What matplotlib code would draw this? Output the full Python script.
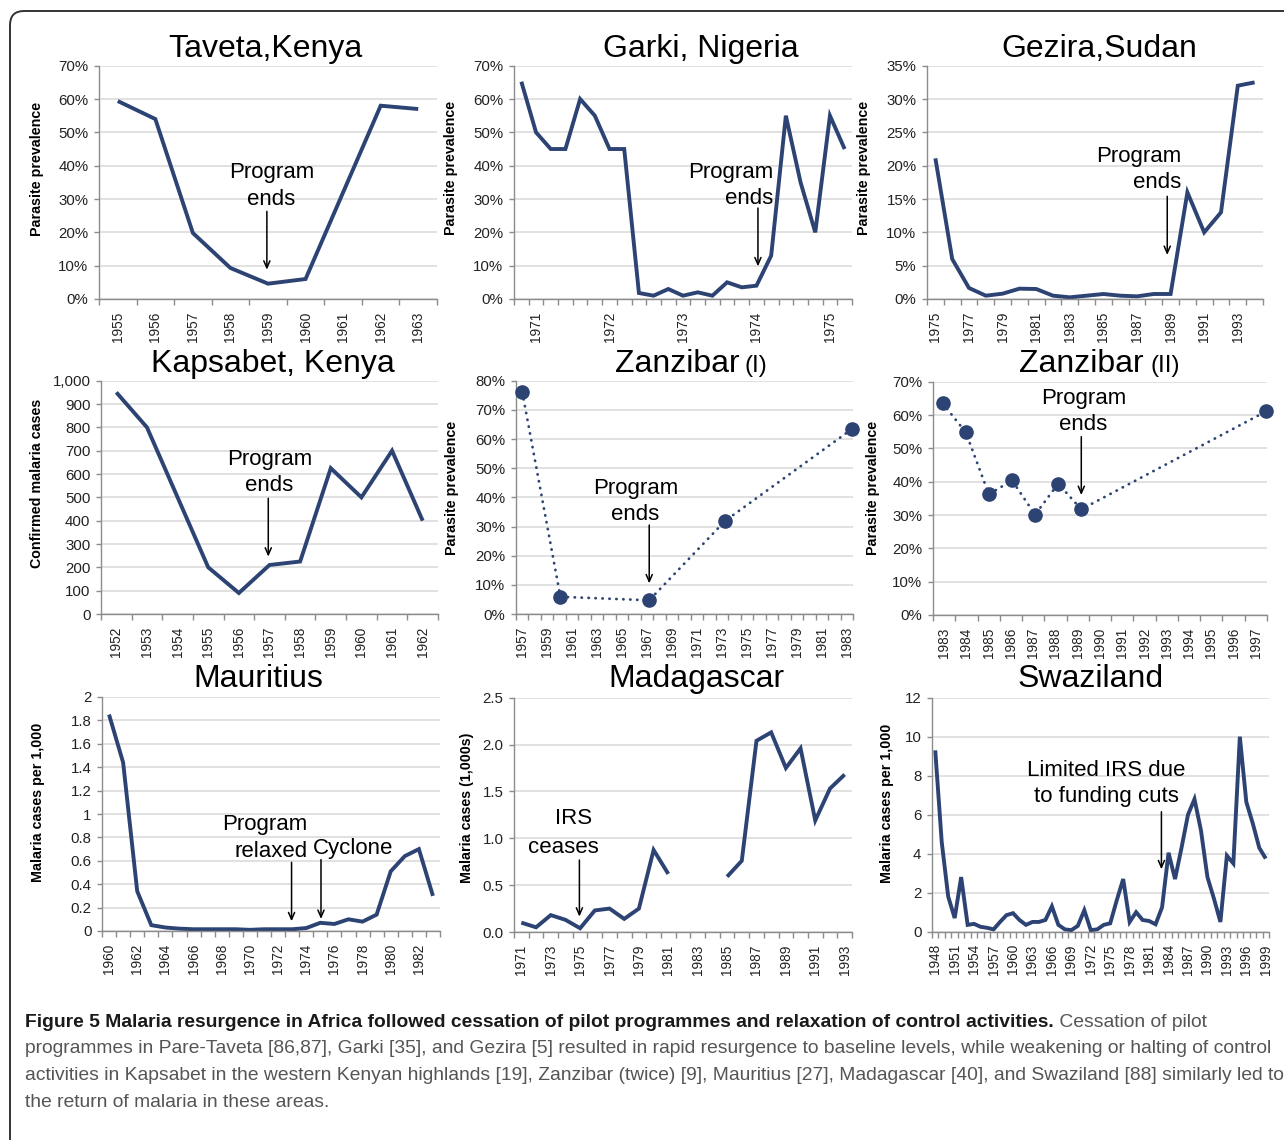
import numpy as np
import matplotlib
matplotlib.use('Agg')
import matplotlib.pyplot as plt
from matplotlib import font_manager
from matplotlib.patches import FancyBboxPatch
from matplotlib.ticker import FuncFormatter

# ---- values ----
taveta_years = ['1955', '1956', '1957', '1958', '1959', '1960', '1961', '1962', '1963']
taveta_prev = [59.4, 54.0, 19.8, 9.3, 4.6, 6.0, 32.0, 58.0, 57.0]

garki_labels = ['', '1971', '', '', '', '', '1972', '', '', '', '', '1973',
                '', '', '', '', '1974', '', '', '', '', '1975', '']
garki_prev = [65.2, 50, 45, 45, 60, 55, 45, 45, 1.8, 1.0, 3.0, 1.0,
              2.0, 1.0, 5.0, 3.5, 4.0, 13.0, 55, 35, 20, 55, 45]

gezira_years = [str(y) for y in range(1975, 1995)]
gezira_prev = [21.1, 6.0, 1.65, 0.5, 0.8, 1.55, 1.5, 0.5, 0.25, 0.5,
               0.75, 0.5, 0.4, 0.75, 0.75, 16.0, 10.0, 13.0, 32.0, 32.5]

kapsabet_years = [str(y) for y in range(1952, 1963)]
kapsabet_cases = [950, 800, 500, 200, 90, 210, 225, 625, 500, 700, 400]

zan1_cats = [str(y) for y in range(1957, 1984)]
zan1_years = [1957, 1960, 1967, 1973, 1983]
zan1_prev = [76.0, 5.9, 4.7, 32.0, 63.5]

zan2_cats = [str(y) for y in range(1983, 1998)]
zan2_years = [1983, 1984, 1985, 1986, 1987, 1988, 1989, 1997]
zan2_prev = [63.5, 54.8, 36.2, 40.4, 30.1, 39.4, 31.7, 61.1]

mauritius_years = [str(y) for y in range(1960, 1984)]
mauritius_rate = [1.85, 1.44, 0.34, 0.05, 0.03, 0.02, 0.015, 0.015, 0.015, 0.015,
                  0.01, 0.015, 0.015, 0.015, 0.025, 0.07, 0.06, 0.10, 0.08, 0.14,
                  0.51, 0.64, 0.70, 0.30]

madagascar_years = [str(y) for y in range(1971, 1994)]
madagascar_cases = [0.10, 0.05, 0.18, 0.13, 0.04, 0.23, 0.25, 0.14, 0.25, 0.875,
                    0.62, np.nan, np.nan, np.nan, 0.59, 0.76, 2.04, 2.13, 1.75, 1.96,
                    1.19, 1.53, 1.68]

swazi_years = [str(y) for y in range(1948, 2000)]
swazi_rate = [9.3, 4.6, 1.8, 0.7, 2.8, 0.35, 0.4, 0.25, 0.2, 0.12,
              0.5, 0.85, 0.95, 0.6, 0.35, 0.5, 0.5, 0.6, 1.3, 0.35,
              0.12, 0.08, 0.3, 1.1, 0.08, 0.12, 0.35, 0.43, 1.6, 2.7,
              0.5, 1.0, 0.6, 0.55, 0.38, 1.25, 4.05, 2.7, 4.3, 6.0,
              6.8, 5.2, 2.8, 1.7, 0.5, 3.9, 3.5, 10.0, 6.65, 5.55,
              4.3, 3.75]

caption_bold = ('Figure 5 Malaria resurgence in Africa followed cessation of pilot '
                'programmes and relaxation of control activities.')
caption_lines = [
    ' Cessation of pilot',
    'programmes in Pare-Taveta [86,87], Garki [35], and Gezira [5] resulted in rapid '
    'resurgence to baseline levels, while weakening or halting of control',
    'activities in Kapsabet in the western Kenyan highlands [19], Zanzibar (twice) [9], '
    'Mauritius [27], Madagascar [40], and Swaziland [88] similarly led to',
    'the return of malaria in these areas.',
]

# ---- layout ----
W, H = 1284, 1140
BLUE = '#2c4373'
GRID = '#d9d9d9'
AXC = '#8c8c8c'
FONT = 'Liberation Sans'
plt.rcParams['font.family'] = [FONT, 'DejaVu Sans']

fig = plt.figure(figsize=(W / 100, H / 100), dpi=100)
fig.patch.set_facecolor('white')


def add_panel(l, t, r, b):
    return fig.add_axes([l / W, 1 - b / H, (r - l) / W, (b - t) / H])


def fx(x):
    return x / W


def fy(y):
    return 1 - y / H


def style(ax, ymax, ystep, fmt):
    ax.set_ylim(0, ymax)
    ax.set_yticks(np.arange(0, ymax + ystep / 2, ystep))
    ax.yaxis.set_major_formatter(FuncFormatter(fmt))
    ax.grid(axis='y', color=GRID, lw=1.1)
    ax.set_axisbelow(True)
    ax.set_facecolor('none')
    for s in ['top', 'right']:
        ax.spines[s].set_visible(False)
    for s in ['left', 'bottom']:
        ax.spines[s].set_color(AXC)
        ax.spines[s].set_linewidth(1)
    ax.tick_params(axis='y', length=3.6, width=1, color=AXC, labelsize=10.8,
                   pad=4, labelcolor='#222222')


def cat_axis(ax, labels, lo=None, hi=None):
    n = len(labels)
    if lo is None:
        lo, hi = -0.5, n - 0.5
    edges = np.linspace(lo, hi, n + 1)
    centers = (edges[:-1] + edges[1:]) / 2
    ax.set_xlim(lo, hi)
    ax.set_xticks(edges, minor=True)
    keep = [i for i, s in enumerate(labels) if s]
    ax.set_xticks(centers[keep])
    ax.set_xticklabels([labels[i] for i in keep], rotation=90, fontsize=9.8,
                       color='#222222')
    ax.tick_params(axis='x', which='major', length=0, pad=9)
    ax.tick_params(axis='x', which='minor', length=4, width=1, color=AXC)


def every(labels, k):
    return [s if i % k == 0 else '' for i, s in enumerate(labels)]


def pct(v, _):
    return '%d%%' % round(v)


def arrow(ax, x, y0, y1):
    ax.annotate('', xy=(x, y1), xytext=(x, y0),
                arrowprops=dict(arrowstyle='->,head_length=0.5,head_width=0.22',
                                color='black', lw=1.1, shrinkA=0, shrinkB=0))


def note(ax, x, y, s, ha='center'):
    ax.text(x, y, s, ha=ha, va='center', multialignment=ha, fontsize=16,
            color='black', linespacing=1.32)


def title(x, y, s, size=23):
    fig.text(fx(x), fy(y), s, ha='center', va='baseline', fontsize=size)


def ylab(x, y, s):
    fig.text(fx(x), fy(y), s, rotation=90, ha='center', va='center',
             fontsize=10.3, fontweight='bold')


def line(ax, x, y):
    ax.plot(x, y, color=BLUE, lw=2.8, solid_joinstyle='miter', solid_capstyle='butt')


def dotted(ax, x, y):
    ax.plot(x, y, color=BLUE, lw=2.0, ls=(0, (0.1, 2.4)), dash_capstyle='round',
            zorder=2)
    ax.plot(x, y, ls='none', marker='o', ms=9.5, mfc=BLUE, mec=BLUE,
            clip_on=False, zorder=3)


# Taveta, Kenya
ax = add_panel(99, 65.7, 437, 299)
style(ax, 70, 10, pct)
cat_axis(ax, taveta_years)
line(ax, range(len(taveta_prev)), taveta_prev)
note(ax, 4.09, 33.9, 'Program\nends')
arrow(ax, 3.97, 26.3, 8.8)
title(265, 57.3, 'Taveta,Kenya')
ylab(37.3, 169, 'Parasite prevalence')

# Garki, Nigeria
ax = add_panel(514, 65.7, 852, 299)
style(ax, 70, 10, pct)
cat_axis(ax, garki_labels)
line(ax, range(len(garki_prev)), garki_prev)
note(ax, 17.15, 34.0, 'Program\nends', ha='right')
arrow(ax, 16.1, 27.3, 9.8)
title(701, 57.3, 'Garki, Nigeria')
ylab(450.7, 167.5, 'Parasite prevalence')

# Gezira, Sudan
ax = add_panel(927, 65.7, 1263, 299)
style(ax, 35, 5, pct)
cat_axis(ax, every(gezira_years, 2))
line(ax, range(len(gezira_prev)), gezira_prev)
note(ax, 14.65, 19.4, 'Program\nends', ha='right')
arrow(ax, 13.8, 15.4, 6.6)
title(1099, 57.3, 'Gezira,Sudan')
ylab(864, 167.5, 'Parasite prevalence')

# Kapsabet, Kenya
ax = add_panel(101, 380.7, 438, 614)
style(ax, 1000, 100, lambda v, _: '{:,.0f}'.format(v))
cat_axis(ax, kapsabet_years)
line(ax, range(len(kapsabet_cases)), kapsabet_cases)
note(ax, 5.0, 607, 'Program\nends')
arrow(ax, 4.96, 496, 246)
title(273, 371.7, 'Kapsabet, Kenya')
ylab(37.3, 483, 'Confirmed malaria cases')

# Zanzibar (I)
ax = add_panel(516, 380.7, 853, 614)
style(ax, 80, 10, pct)
cat_axis(ax, every(zan1_cats, 2), 1956.5, 1983.06)
dotted(ax, zan1_years, zan1_prev)
note(ax, 1965.9, 38.7, 'Program\nends')
arrow(ax, 1967.0, 30.5, 10.5)
fig.text(fx(740), fy(371.7), 'Zanzibar', ha='right', va='baseline', fontsize=23)
fig.text(fx(745), fy(371.7), '(I)', ha='left', va='baseline', fontsize=17.5)
ylab(451.7, 487.5, 'Parasite prevalence')

# Zanzibar (II)
ax = add_panel(933, 381.7, 1267, 615)
style(ax, 70, 10, pct)
cat_axis(ax, zan2_cats, 1982.58, 1997.04)
dotted(ax, zan2_years, zan2_prev)
note(ax, 1989.1, 61.1, 'Program\nends')
arrow(ax, 1989.0, 53.5, 36.0)
fig.text(fx(1143.3), fy(371.7), 'Zanzibar', ha='right', va='baseline', fontsize=23)
fig.text(fx(1150), fy(371.7), '(II)', ha='left', va='baseline', fontsize=17.5)
ylab(873.3, 487.5, 'Parasite prevalence')

# Mauritius
ax = add_panel(102, 697, 440, 931)
style(ax, 2, 0.2, lambda v, _: '{:g}'.format(round(v, 1)))
cat_axis(ax, every(mauritius_years, 2))
line(ax, range(len(mauritius_rate)), mauritius_rate)
note(ax, 14.1, 0.795, 'Program\nrelaxed', ha='right')
arrow(ax, 12.96, 0.587, 0.083)
ax.text(14.45, 0.704, 'Cyclone', ha='left', va='center', fontsize=16)
arrow(ax, 15.05, 0.61, 0.103)
title(258, 686.7, 'Mauritius')
ylab(38.3, 802, 'Malaria cases per 1,000')

# Madagascar
ax = add_panel(514, 697.7, 852, 932)
style(ax, 2.5, 0.5, lambda v, _: '%.1f' % v)
cat_axis(ax, every(madagascar_years, 2))
line(ax, range(len(madagascar_cases)), madagascar_cases)
ax.text(3.56, 1.213, 'IRS', ha='center', va='center', fontsize=16)
ax.text(2.86, 0.903, 'ceases', ha='center', va='center', fontsize=16)
arrow(ax, 3.95, 0.768, 0.164)
title(696.7, 686.7, 'Madagascar')
ylab(467, 807.5, 'Malaria cases (1,000s)')

# Swaziland
ax = add_panel(932, 697.7, 1269, 931.7)
style(ax, 12, 2, lambda v, _: '%d' % v)
cat_axis(ax, every(swazi_years, 3))
line(ax, range(len(swazi_rate)), swazi_rate)
note(ax, 26.45, 7.59, 'Limited IRS due\nto funding cuts')
arrow(ax, 34.9, 6.15, 3.2)
title(1090.8, 686.7, 'Swaziland')
ylab(886.7, 803, 'Malaria cases per 1,000')

# ---- frame around the figure panel ----
frame = FancyBboxPatch((10, -30), 1320, H - 11 + 30,
                       boxstyle='round,pad=0,rounding_size=14', transform=None,
                       fill=False, ec='#333333', lw=1.4)
fig.add_artist(frame)

# ---- caption ----
names = {f.name for f in font_manager.fontManager.ttflist}
cap_font = 'Liberation Sans Narrow' if 'Liberation Sans Narrow' in names else FONT
base = 12
bold = fig.text(fx(25), fy(1027), caption_bold, fontsize=base, fontweight='bold',
                color='#1a1a1a', family=cap_font, va='baseline')
rest = fig.text(0, 0, caption_lines[0], fontsize=base, color='#555555',
                family=cap_font, va='baseline')
others = []
for s, yb in zip(caption_lines[1:], [1053, 1080, 1107]):
    others.append(fig.text(fx(25), fy(yb), s, fontsize=base, color='#555555',
                           family=cap_font, va='baseline'))

fig.canvas.draw()
r = fig.canvas.get_renderer()
w = others[0].get_window_extent(r).width
size = base * 1250 / w
for t in [bold, rest] + others:
    t.set_fontsize(size)
fig.canvas.draw()
bb = bold.get_window_extent(r)
rest.set_position((bb.x1 / W, fy(1027)))

fig.savefig('out.png', dpi=100)
